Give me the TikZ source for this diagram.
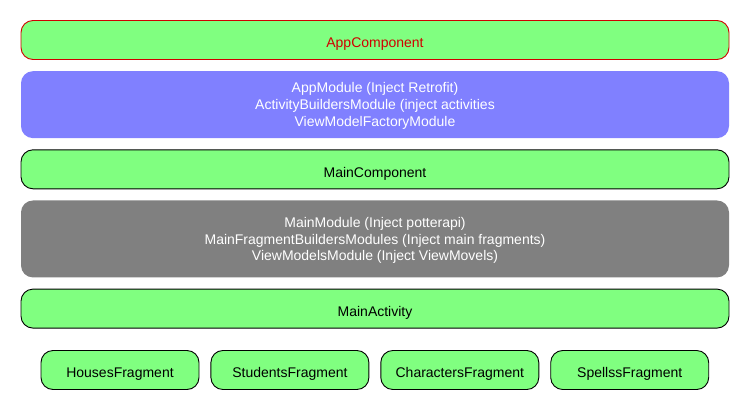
\documentclass[tikz,border=0pt]{standalone}
\usepackage{fontspec}
\setmainfont{Liberation Sans}
\usepackage{xcolor}
\usepackage{tikz}
\usetikzlibrary{positioning}

\definecolor{compgreen}{HTML}{80FF80}
\definecolor{modblue}{HTML}{8080FF}
\definecolor{modgray}{HTML}{808080}
\definecolor{appred}{HTML}{D00000}

\begin{document}
\begin{tikzpicture}[
    x=1pt, y=1pt,
    node distance=11pt,
    layer/.style={rectangle, rounded corners=12pt, minimum width=708pt, minimum height=39pt, inner sep=0pt, align=center, font=\fontsize{14}{16.8}\selectfont},
    comp/.style={layer, draw=black, line width=0.9pt, fill=compgreen, execute at begin node={\rule{0pt}{18.5pt}}},
    module/.style={layer, text=white, text depth=-11pt},
    frag/.style={comp, minimum width=158pt}
]
\useasboundingbox (0,0) rectangle (750,-410);

% Components and modules
\node[comp, draw=appred, text=appred] (appcomp) at (375,-40) {AppComponent};
\node[module, fill=modblue, minimum height=67pt, below=of appcomp] (appmod) {AppModule (Inject Retrofit)\\ActivityBuildersModule (inject activities\\ViewModelFactoryModule};
\node[comp, below=of appmod] (maincomp) {MainComponent};
\node[module, fill=modgray, minimum height=77pt, below=of maincomp] (mainmod) {MainModule (Inject potterapi)\\MainFragmentBuildersModules (Inject main fragments)\\ViewModelsModule (Inject ViewMovels)};
\node[comp, below=of mainmod] (mainact) {MainActivity};

% Fragments
\node[frag] (houses) at (120,-370) {HousesFragment};
\node[frag, right=11pt of houses] (students) {StudentsFragment};
\node[frag, right=11pt of students] (characters) {CharactersFragment};
\node[frag, right=11pt of characters] (spells) {SpellssFragment};

\end{tikzpicture}
\end{document}
